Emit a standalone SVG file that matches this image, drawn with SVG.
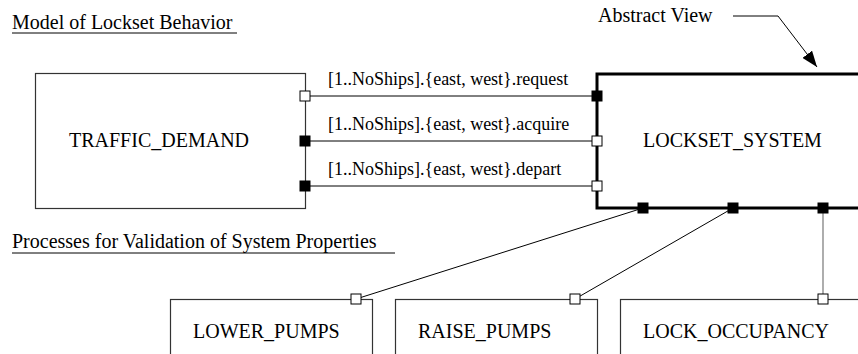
<svg xmlns="http://www.w3.org/2000/svg" width="858" height="354" viewBox="0 0 858 354">
<style>
text{font-family:"Liberation Serif","Times New Roman",serif;fill:#000}
.h{font-size:20px}
.n{font-size:20px}
.l{font-size:18px}
.box{fill:#fff;stroke:#333;stroke-width:1.2}
.thick{fill:#fff;stroke:#000;stroke-width:3}
.pw{fill:#fff;stroke:#000;stroke-width:1}
.pb{fill:#000;stroke:#000;stroke-width:1}
.c{fill:none;stroke:#000;stroke-width:1}
.cg{fill:none;stroke:#777;stroke-width:1.2}
.u{stroke:#000;stroke-width:1}
</style>
<defs>
<marker id="ah" markerWidth="16" markerHeight="12" refX="16" refY="6" orient="auto" markerUnits="userSpaceOnUse">
<path d="M0,0 L16,6 L0,12 Z" fill="#000"/>
</marker>
</defs>
<g id="headings">
<text class="h" x="12" y="29">Model of Lockset Behavior</text>
<line class="u" x1="12" y1="33" x2="237" y2="33"/>
<text class="h" x="12" y="248">Processes for Validation of System Properties</text>
<line class="u" x1="12" y1="253" x2="395" y2="253"/>
</g>
<g id="abstract-view">
<text class="h" x="598" y="22">Abstract View</text>
<polyline class="c" points="733,16 778,16 817,67" marker-end="url(#ah)"/>
</g>
<g id="connectors">
<line class="c" x1="305" y1="96" x2="597" y2="96"/>
<line class="c" x1="305" y1="141" x2="597" y2="141"/>
<line class="c" x1="305" y1="186" x2="597" y2="186"/>
<line class="c" x1="643" y1="208" x2="356" y2="299"/>
<line class="c" x1="733" y1="208" x2="575" y2="299"/>
<line class="cg" x1="823" y1="208" x2="823" y2="299"/>
<text class="l" x="328" y="85">[1..NoShips].{east, west}.request</text>
<text class="l" x="328" y="130">[1..NoShips].{east, west}.acquire</text>
<text class="l" x="328" y="175">[1..NoShips].{east, west}.depart</text>
</g>
<g id="TRAFFIC_DEMAND">
<rect class="box" x="35.5" y="73.5" width="270" height="135"/>
<text class="n" x="69" y="147">TRAFFIC_DEMAND</text>
<rect class="pw" x="300" y="91" width="10" height="10"/>
<rect class="pb" x="300" y="136" width="10" height="10"/>
<rect class="pb" x="300" y="181" width="10" height="10"/>
</g>
<g id="LOCKSET_SYSTEM">
<rect class="thick" x="597" y="74" width="280" height="134"/>
<text class="n" x="643" y="147">LOCKSET_SYSTEM</text>
<rect class="pb" x="592" y="91" width="10" height="10"/>
<rect class="pw" x="592" y="136" width="10" height="10"/>
<rect class="pw" x="592" y="181" width="10" height="10"/>
<rect class="pb" x="638" y="203" width="10" height="10"/>
<rect class="pb" x="728" y="203" width="10" height="10"/>
<rect class="pb" x="818" y="203" width="10" height="10"/>
</g>
<g id="LOWER_PUMPS">
<rect class="box" x="170.5" y="299.5" width="202" height="80"/>
<text class="n" x="193" y="338">LOWER_PUMPS</text>
<rect class="pw" x="351" y="294" width="10" height="10"/>
</g>
<g id="RAISE_PUMPS">
<rect class="box" x="395.5" y="299.5" width="202" height="80"/>
<text class="n" x="418" y="338">RAISE_PUMPS</text>
<rect class="pw" x="570" y="294" width="10" height="10"/>
</g>
<g id="LOCK_OCCUPANCY">
<rect class="box" x="620.5" y="299.5" width="260" height="80"/>
<text class="n" x="643" y="338">LOCK_OCCUPANCY</text>
<rect class="pw" x="818" y="294" width="10" height="10"/>
</g>
</svg>
